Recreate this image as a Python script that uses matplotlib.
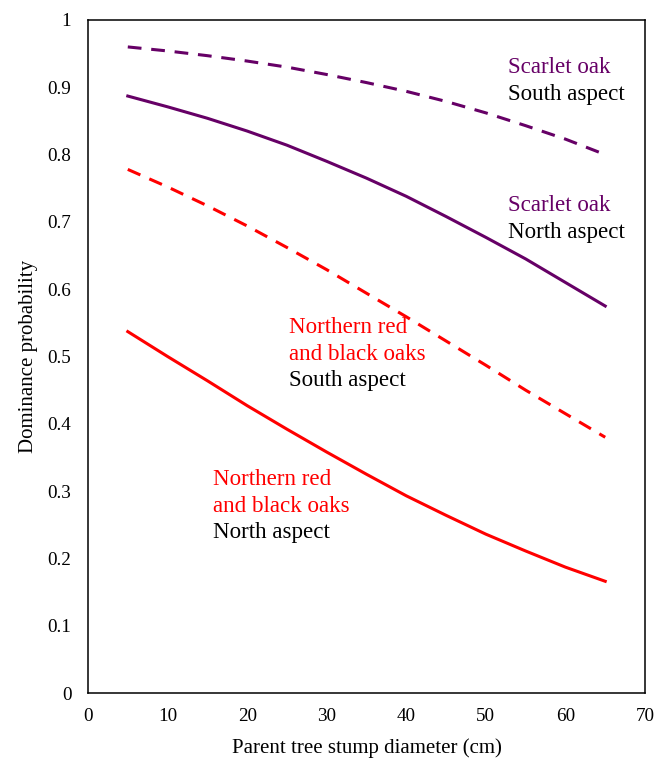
import matplotlib
matplotlib.use("Agg")
import matplotlib.pyplot as plt

plt.rcParams['font.family'] = ['Liberation Serif', 'DejaVu Serif']

diameter = [5, 10, 15, 20, 25, 30, 35, 40, 45, 50, 55, 60, 65]
scarlet_south = [0.960, 0.954, 0.947, 0.939, 0.930, 0.919, 0.907, 0.894, 0.879, 0.862, 0.843, 0.823, 0.800]
scarlet_north = [0.887, 0.871, 0.854, 0.835, 0.814, 0.790, 0.765, 0.738, 0.708, 0.677, 0.645, 0.610, 0.575]
redblack_south = [0.778, 0.752, 0.724, 0.694, 0.662, 0.629, 0.594, 0.559, 0.523, 0.487, 0.450, 0.415, 0.380]
redblack_north = [0.537, 0.500, 0.464, 0.427, 0.392, 0.358, 0.325, 0.293, 0.264, 0.236, 0.211, 0.187, 0.166]

xticks = [0, 10, 20, 30, 40, 50, 60, 70]
yticks = [0, 0.1, 0.2, 0.3, 0.4, 0.5, 0.6, 0.7, 0.8, 0.9, 1]
ytick_labels = ['0', '0.1', '0.2', '0.3', '0.4', '0.5', '0.6', '0.7', '0.8', '0.9', '1']

PURPLE = '#660066'
RED = '#FF0000'

fig = plt.figure(figsize=(6.68, 7.58), dpi=100)
ax = fig.add_axes([88/668, 1-693/758, (645-88)/668, (693-20)/758])

lw = 2.2
ax.plot(diameter, scarlet_south, color=PURPLE, lw=lw, dashes=(4.5, 3.2))
ax.plot(diameter, scarlet_north, color=PURPLE, lw=lw)
ax.plot(diameter, redblack_south, color=RED, lw=lw, dashes=(4.5, 3.2))
ax.plot(diameter, redblack_north, color=RED, lw=lw)

ax.set_xlim(0, 70)
ax.set_ylim(0, 1)
ax.set_xticks(xticks)
ax.set_yticks(yticks)
ax.set_yticklabels(ytick_labels)
ax.tick_params(axis='y', length=0, pad=12, labelsize=13.8)
ax.tick_params(axis='x', length=0, pad=11, labelsize=13.8)
for s in ax.spines.values():
    s.set_linewidth(1.1)
    s.set_color('black')

ax.set_xlabel('Parent tree stump diameter (cm)', fontsize=15, labelpad=9)
ax.set_ylabel('Dominance probability', fontsize=15, labelpad=7)

fs = 16.6
step = 26.7 / 673
def label(x, ytop_px, lines):
    y = (693 - ytop_px) / 673
    for i, (t, c) in enumerate(lines):
        ax.text(x, y - i * step, t, color=c, fontsize=fs, ha='left', va='baseline')

label(52.8, 73, [('Scarlet oak', PURPLE), ('South aspect', 'black')])
label(52.8, 211, [('Scarlet oak', PURPLE), ('North aspect', 'black')])
label(25.2, 333, [('Northern red', RED), ('and black oaks', RED), ('South aspect', 'black')])
label(15.7, 485, [('Northern red', RED), ('and black oaks', RED), ('North aspect', 'black')])

fig.savefig('out.png', dpi=100)
